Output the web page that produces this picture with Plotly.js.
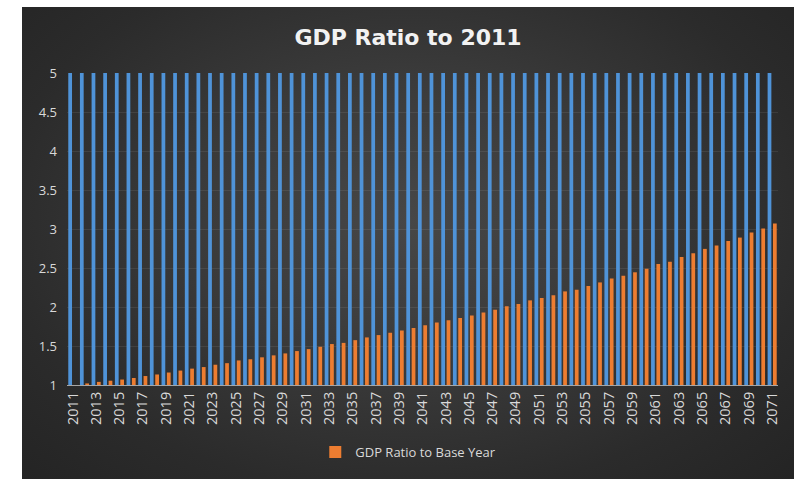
<!DOCTYPE html>
<html>
<head>
<meta charset="utf-8">
<script src="https://cdn.plot.ly/plotly-3.0.1.min.js"></script>
<style>
html,body{margin:0;padding:0;background:#ffffff;width:794px;height:479px;overflow:hidden;}
#chart{position:absolute;left:22px;top:7px;width:772px;height:472px;
background:radial-gradient(ellipse at 50% 45%, #474747 0%, #3a3a3a 40%, #2b2b2b 75%, #242424 100%);}
</style>
</head>
<body>
<div id="chart"></div>
<script>
const years = [];
for (let y = 2011; y <= 2071; y++) years.push(String(y));

const backgroundSeries = [5,5,5,5,5,5,5,5,5,5,5,5,5,5,5,5,5,5,5,5,5,5,5,5,5,5,5,5,5,5,5,5,5,5,5,5,5,5,5,5,5,5,5,5,5,5,5,5,5,5,5,5,5,5,5,5,5,5,5,5,5];

const gdpRatio = [
  1.00, 1.02, 1.04, 1.055, 1.07, 1.09, 1.115, 1.135, 1.16, 1.185,
  1.21, 1.23, 1.26, 1.28, 1.315, 1.33, 1.355, 1.38, 1.405, 1.435,
  1.46, 1.49, 1.525, 1.54, 1.575, 1.61, 1.64, 1.67, 1.70, 1.73,
  1.765, 1.80, 1.83, 1.86, 1.89, 1.93, 1.965, 2.01, 2.04, 2.085,
  2.115, 2.15, 2.20, 2.22, 2.27, 2.315, 2.365, 2.40, 2.445, 2.49,
  2.55, 2.58, 2.64, 2.69, 2.745, 2.79, 2.845, 2.89, 2.955, 3.005,
  3.07
];

const tickYears = years.filter((y, i) => i % 2 === 0);
const yTicks = [1, 1.5, 2, 2.5, 3, 3.5, 4, 4.5, 5];
const yTickText = ['1', '1.5', '2', '2.5', '3', '3.5', '4', '4.5', '5'];

const traces = [
  {
    type: 'bar', x: years, y: backgroundSeries, name: 'Series1',
    marker: {color: '#4f93d8'}, showlegend: false, hoverinfo: 'skip'
  },
  {
    type: 'bar', x: years, y: gdpRatio, name: 'GDP Ratio to Base Year',
    marker: {color: '#ed7d31'}
  }
];

const font = "'Open Sans', 'Liberation Sans', sans-serif";

const layout = {
  width: 772, height: 472,
  paper_bgcolor: 'rgba(0,0,0,0)',
  plot_bgcolor: 'rgba(0,0,0,0)',
  margin: {l: 45, r: 16, t: 66, b: 91},
  barmode: 'group',
  bargap: 0.08,
  bargroupgap: 0.3,
  title: {
    text: '<b>GDP Ratio to 2011</b>',
    x: 0.5, xanchor: 'center', y: 0.935, yanchor: 'middle',
    font: {family: "'DejaVu Sans', 'Open Sans', sans-serif", size: 22, color: '#f2f2f2'}
  },
  xaxis: {
    type: 'category',
    tickmode: 'array', tickvals: tickYears, ticktext: tickYears,
    tickangle: -90,
    tickfont: {family: font, size: 14.5, color: '#d9d9d9'},
    showgrid: false,
    showline: true, linecolor: '#a6a6a6', linewidth: 1,
    ticks: '', zeroline: false
  },
  yaxis: {
    range: [1, 5],
    tickmode: 'array', tickvals: yTicks, ticktext: yTickText,
    tickfont: {family: font, size: 13, color: '#d9d9d9'},
    showgrid: true, gridcolor: 'rgba(255,255,255,0.08)', gridwidth: 1,
    showline: false, zeroline: false, ticks: '',
    ticklabelstandoff: 9
  },
  legend: {
    orientation: 'h', x: 0.48, xanchor: 'center', y: -0.215, yanchor: 'middle',
    font: {family: font, size: 13, color: '#d9d9d9'},
    bgcolor: 'rgba(0,0,0,0)'
  },
  showlegend: true
};

Plotly.newPlot('chart', traces, layout, {displayModeBar: false, staticPlot: true});
</script>
</body>
</html>
